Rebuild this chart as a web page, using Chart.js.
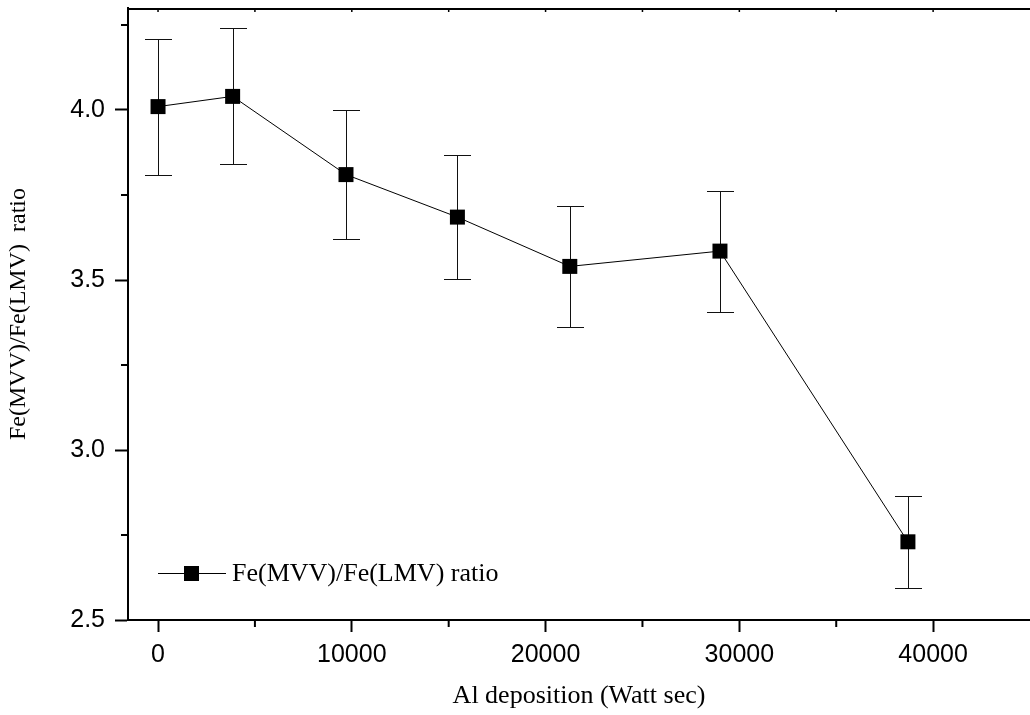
<!DOCTYPE html>
<html>
<head>
<meta charset="utf-8">
<title>Fe(MVV)/Fe(LMV) ratio</title>
<script src="https://cdn.jsdelivr.net/npm/chart.js@4.4.1/dist/chart.umd.min.js"></script>
<style>
  html, body { margin: 0; padding: 0; background: #fff; }
  #wrap { width: 1030px; height: 715px; }
</style>
</head>
<body>
<div id="wrap"><canvas id="myChart" width="1030" height="715"></canvas></div>
<script>
// Al deposition (Watt sec) against the Fe Auger peak ratio
const deposition = [0, 3850, 9700, 15450, 21250, 29000, 38700]
const ratio = [4.01, 4.04, 3.81, 3.685, 3.54, 3.585, 2.73]
const ratioError = [0.2, 0.2, 0.19, 0.183, 0.177, 0.178, 0.136]

const xTicks = [0, 10000, 20000, 30000, 40000]
const xMinor = [5000, 15000, 25000, 35000]
const xTopTicks = [0, 5000, 10000, 15000, 20000, 25000, 30000, 35000, 40000]
const yTicks = [2.5, 3.0, 3.5, 4.0]
const yMinor = [2.75, 3.25, 3.75, 4.25]

const serif = "'Liberation Serif', 'Times New Roman', serif"
const sans = "'Liberation Sans', Arial, sans-serif"

Chart.defaults.color = '#000'
Chart.defaults.font.family = sans
Chart.defaults.font.size = 25

// vertical error bars with caps, under the markers
const errorBars = {
  id: 'errorBars',
  beforeDatasetsDraw(chart) {
    const {ctx, scales: {x, y}} = chart
    ctx.save()
    ctx.strokeStyle = '#111'
    ctx.lineWidth = 1
    deposition.forEach((d, i) => {
      const px = Math.round(x.getPixelForValue(d)) + 0.5
      const top = Math.round(y.getPixelForValue(ratio[i] + ratioError[i])) + 0.5
      const bottom = Math.round(y.getPixelForValue(ratio[i] - ratioError[i])) + 0.5
      ctx.beginPath()
      ctx.moveTo(px, top)
      ctx.lineTo(px, bottom)
      ctx.moveTo(px - 13.5, top)
      ctx.lineTo(px + 13.5, top)
      ctx.moveTo(px - 13.5, bottom)
      ctx.lineTo(px + 13.5, bottom)
      ctx.stroke()
    })
    ctx.restore()
  }
}

// minor ticks, top frame line, and the legend inside the plot
const frame = {
  id: 'frame',
  afterDraw(chart) {
    const {ctx, chartArea: area, scales: {x, y}} = chart
    ctx.save()
    ctx.strokeStyle = '#000'
    ctx.lineWidth = 2
    ctx.beginPath()
    xMinor.forEach(v => {
      const px = x.getPixelForValue(v)
      ctx.moveTo(px, area.bottom)
      ctx.lineTo(px, area.bottom + 7)
    })
    yMinor.forEach(v => {
      const py = y.getPixelForValue(v)
      ctx.moveTo(area.left, py)
      ctx.lineTo(area.left - 7, py)
    })
    ctx.moveTo(area.left - 1, area.top + 1)
    ctx.lineTo(area.right, area.top + 1)
    ctx.stroke()

    ctx.lineWidth = 1.5
    ctx.beginPath()
    xTopTicks.forEach(v => {
      const px = x.getPixelForValue(v)
      ctx.moveTo(px, area.top + 1)
      ctx.lineTo(px, area.top + 4)
    })
    ctx.stroke()

    // legend
    const ly = area.bottom - 47
    const lx = area.left + 30
    ctx.lineWidth = 1
    ctx.beginPath()
    ctx.moveTo(lx, ly + 0.5)
    ctx.lineTo(lx + 68, ly + 0.5)
    ctx.stroke()
    ctx.fillStyle = '#000'
    ctx.fillRect(lx + 26, ly - 7, 15, 15)
    ctx.font = '26px ' + serif
    ctx.textBaseline = 'middle'
    ctx.textAlign = 'left'
    ctx.fillText(chart.data.datasets[0].label, lx + 74, ly + 1)
    ctx.restore()
  }
}

// keep the plot box fixed: no extra room for overhanging labels
const noOverhang = s => {
  s.paddingTop = 0
  s.paddingBottom = 0
  s.paddingLeft = 0
  s.paddingRight = 0
}

const data = {
  datasets: [
    {
      label: 'Fe(MVV)/Fe(LMV) ratio',
      data: deposition.map((d, i) => ({x: d, y: ratio[i]})),
      showLine: true,
      borderColor: '#000',
      borderWidth: 1,
      backgroundColor: '#000',
      pointStyle: 'rect',
      pointRadius: 10.6,
      pointHoverRadius: 10.6,
      pointBorderWidth: 0,
      tension: 0,
    },
  ],
}

const config = {
  type: 'scatter',
  data: data,
  options: {
    responsive: false,
    animation: false,
    devicePixelRatio: 1,
    layout: {autoPadding: false, padding: {top: 8, right: 0, bottom: 0, left: 0}},
    plugins: {
      legend: {display: false},
      tooltip: {enabled: false},
    },
    scales: {
      x: {
        type: 'linear',
        min: -1550,
        max: 45000,
        afterBuildTicks: s => { s.ticks = xTicks.map(v => ({value: v})) },
        afterFit: s => { s.height = 95; noOverhang(s) },
        grid: {drawOnChartArea: false, tickLength: 12, tickWidth: 2, tickColor: '#000'},
        border: {color: '#000', width: 2},
        ticks: {padding: 8, maxRotation: 0, font: {family: sans, size: 25}, callback: v => String(v)},
        title: {
          display: true,
          text: 'Al deposition (Watt sec)',
          font: {family: serif, size: 26},
          padding: {top: 0, bottom: 3},
        },
      },
      y: {
        type: 'linear',
        min: 2.5,
        max: 4.3,
        afterBuildTicks: s => { s.ticks = yTicks.map(v => ({value: v})) },
        afterFit: s => { s.width = 128; noOverhang(s) },
        grid: {drawOnChartArea: false, tickLength: 13, tickWidth: 2, tickColor: '#000'},
        border: {color: '#000', width: 2},
        ticks: {padding: 10, font: {family: sans, size: 25}, callback: v => v.toFixed(1)},
        title: {
          display: true,
          text: 'Fe(MVV)/Fe(LMV)  ratio',
          font: {family: serif, size: 24},
          padding: {top: 4, bottom: 0},
        },
      },
    },
  },
  plugins: [errorBars, frame],
}

const MyChart = new Chart(
  document.getElementById('myChart'),
  config
)
</script>
</body>
</html>
